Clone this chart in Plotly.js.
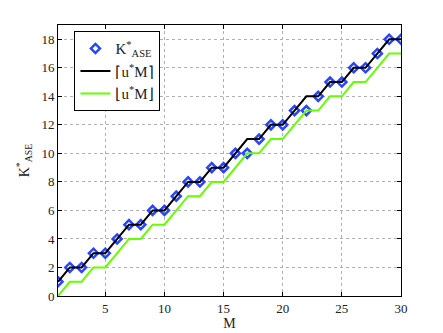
<!DOCTYPE html>
<html>
<head>
<meta charset="utf-8">
<script src="https://cdn.plot.ly/plotly-3.0.1.min.js"></script>
<style>
  body { margin: 0; background: #fff; }
  #chart { width: 443px; height: 333px; }
</style>
</head>
<body>
<div id="chart"></div>
<script>
// M values on the x axis
var M = [1,2,3,4,5,6,7,8,9,10,11,12,13,14,15,16,17,18,19,20,21,22,23,24,25,26,27,28,29,30];

// K*_ASE (diamonds)
var kAse = [1,2,2,3,3,4,5,5,6,6,7,8,8,9,9,10,10,11,12,12,13,13,14,15,15,16,16,17,18,18];

// ceil(u*M) (black line)
var ceilUM = [1,2,2,3,3,4,5,5,6,6,7,8,8,9,9,10,11,11,12,12,13,14,14,15,15,16,16,17,18,18];

// floor(u*M) (green line)
var floorUM = [0,1,1,2,2,3,4,4,5,5,6,7,7,8,8,9,10,10,11,11,12,13,13,14,14,15,15,16,17,17];

var xTicks = [5,10,15,20,25,30];
var yTicks = [0,2,4,6,8,10,12,14,16,18];

var serif = 'Liberation Serif, Times New Roman, serif';

var trace1 = {
  x: M,
  y: kAse,
  mode: 'markers',
  type: 'scatter',
  name: 'K<sup>*</sup><sub>ASE</sub>',
  marker: {
    symbol: 'diamond-open',
    size: 7,
    color: '#2845ff',
    line: {width: 2.5, color: '#2845ff'}
  }
};

var trace2 = {
  x: M,
  y: ceilUM,
  mode: 'lines',
  type: 'scatter',
  name: '\u2308u<sup>*</sup>M\u2309',
  line: {color: '#000000', width: 2}
};

var trace3 = {
  x: M,
  y: floorUM,
  mode: 'lines',
  type: 'scatter',
  name: '\u230Au<sup>*</sup>M\u230B',
  line: {color: '#66ff00', width: 2}
};

var axisCommon = {
  showline: true,
  linecolor: '#000',
  linewidth: 1,
  mirror: 'ticks',
  ticks: 'inside',
  ticklen: 4,
  tickcolor: '#000',
  showgrid: true,
  gridcolor: '#b0b0b0',
  griddash: 'dot',
  gridwidth: 1,
  zeroline: false,
  tickfont: {family: serif, size: 13, color: '#222'}
};

var layout = {
  width: 443,
  height: 333,
  margin: {l: 57.5, r: 42, t: 25, b: 37},
  paper_bgcolor: '#fff',
  plot_bgcolor: '#fff',
  showlegend: true,
  font: {family: serif, color: '#222'},
  xaxis: Object.assign({}, axisCommon, {
    range: [1, 30],
    tickvals: xTicks,
    title: {text: 'M', font: {family: serif, size: 14}, standoff: 0}
  }),
  yaxis: Object.assign({}, axisCommon, {
    range: [0, 19],
    tickvals: yTicks,
    title: {text: 'K<sup>*</sup><sub>ASE</sub>', font: {family: serif, size: 14}, standoff: 8}
  }),
  legend: {
    x: 0.048,
    y: 0.977,
    xanchor: 'left',
    yanchor: 'top',
    bgcolor: '#fff',
    bordercolor: '#000',
    borderwidth: 1,
    itemwidth: 30,
    font: {family: serif, size: 15, color: '#222'},
    tracegroupgap: 0
  }
};

Plotly.newPlot('chart', [trace1, trace2, trace3], layout, {displayModeBar: false});
</script>
</body>
</html>
